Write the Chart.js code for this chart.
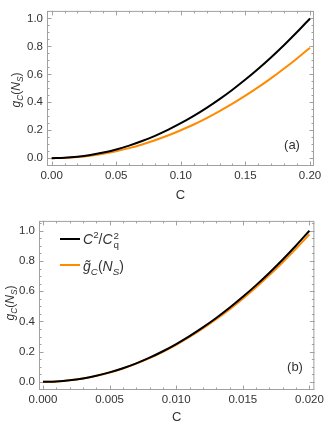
<!DOCTYPE html>
<html>
<head>
<meta charset="utf-8">
<script src="https://cdn.jsdelivr.net/npm/chart.js@4.4.1/dist/chart.umd.min.js"></script>
<style>
body { margin: 0; background: #fff; width: 327px; height: 425px; position: relative; overflow: hidden;
       font-family: "Liberation Sans", Arial, sans-serif; color: #333; }
canvas { position: absolute; left: 0; }
.t { position: absolute; white-space: nowrap; line-height: 1; }
.ytitle { font-size: 12px; transform: translate(-50%, -50%) rotate(-90deg); }
sub, sup { font-size: 70%; line-height: 0; }
.panel { font-size: 13px; transform: translate(-50%, -50%); }
.key { position: absolute; height: 2px; width: 20px; }
.ltxt { font-size: 14px; transform: translateY(-50%); }
.stack { display: inline-block; vertical-align: middle; font-size: 70%; line-height: 0.95; text-align: left; margin-left: 1px; }
</style>
</head>
<body>
<canvas id="chartA" width="327" height="210" style="top:0"></canvas>
<canvas id="chartB" width="327" height="215" style="top:210px"></canvas>

<div class="t ytitle" style="left:16px; top:90px"><i>g</i><sub><i>C</i></sub>(<i>N</i><sub><i>S</i></sub>)</div>
<div class="t ytitle" style="left:10px; top:303px"><i>g</i><sub><i>C</i></sub>(<i>N</i><sub><i>S</i></sub>)</div>
<div class="t panel" style="left:292px; top:144px">(a)</div>
<div class="t panel" style="left:295px; top:366px">(b)</div>

<div class="key" style="left:60px; top:238px; background:#000"></div>
<div class="t ltxt" style="left:83px; top:240px"><i>C</i><sup>2</sup>/<i>C</i><span class="stack">2<br>q</span></div>
<div class="key" style="left:60px; top:264px; background:#ff8a00"></div>
<div class="t ltxt" style="left:83px; top:266px"><i>g&#771;</i><sub><i>C</i></sub>(<i>N</i><sub><i>S</i></sub>)</div>

<script>
// panel (a): C from 0 to 0.2
var cA = [0, 0.01, 0.02, 0.03, 0.04, 0.05, 0.06, 0.07, 0.08, 0.09, 0.10,
          0.11, 0.12, 0.13, 0.14, 0.15, 0.16, 0.17, 0.18, 0.19, 0.20];
var blackA = [0, 0.0025, 0.010, 0.0225, 0.040, 0.0625, 0.090, 0.1225, 0.160, 0.2025, 0.250,
              0.3025, 0.360, 0.4225, 0.490, 0.5625, 0.640, 0.7225, 0.810, 0.9025, 1.000];
var orangeA = [0, 0.002, 0.008, 0.018, 0.032, 0.050, 0.072, 0.098, 0.128, 0.162, 0.200,
               0.241, 0.287, 0.337, 0.390, 0.447, 0.508, 0.573, 0.642, 0.714, 0.790];

// panel (b): C from 0 to 0.02
var cB = [0, 0.001, 0.002, 0.003, 0.004, 0.005, 0.006, 0.007, 0.008, 0.009, 0.010,
          0.011, 0.012, 0.013, 0.014, 0.015, 0.016, 0.017, 0.018, 0.019, 0.020];
var blackB = [0, 0.0025, 0.010, 0.0225, 0.040, 0.0625, 0.090, 0.1225, 0.160, 0.2025, 0.250,
              0.3025, 0.360, 0.4225, 0.490, 0.5625, 0.640, 0.7225, 0.810, 0.9025, 1.000];
var orangeB = [0, 0.0025, 0.0099, 0.0222, 0.0394, 0.0615, 0.0885, 0.1204, 0.1571, 0.1988, 0.2452,
               0.2966, 0.3528, 0.4138, 0.4797, 0.5504, 0.6260, 0.7064, 0.7915, 0.8814, 0.9760];

var xTicksA = [0, 0.05, 0.10, 0.15, 0.20];
var xTicksB = [0, 0.005, 0.010, 0.015, 0.020];
var yTicks = [0, 0.2, 0.4, 0.6, 0.8, 1.0];

function steps(from, to, step) {
    var out = [];
    for (var v = from; v <= to + step / 2; v += step) out.push(+v.toFixed(6));
    return out;
}

function pts(xs, ys) {
    var out = [];
    for (var i = 0; i < xs.length; i++) out.push({x: xs[i], y: ys[i]});
    return out;
}

// Mathematica-like frame with inward ticks on all four sides
var frameTicks = {
    id: 'frameTicks',
    beforeDatasetsDraw: function(chart) {
        var o = chart.options.plugins.frameTicks;
        var ctx = chart.ctx, a = chart.chartArea, x = chart.scales.x, y = chart.scales.y;
        ctx.save();
        ctx.strokeStyle = '#a0a0a0';
        ctx.lineWidth = 1;
        ctx.strokeRect(a.left + 0.5, a.top + 0.5, a.right - a.left - 1, a.bottom - a.top - 1);
        ctx.beginPath();
        function xt(v, len) {
            var p = Math.round(x.getPixelForValue(v)) + 0.5;
            ctx.moveTo(p, a.bottom); ctx.lineTo(p, a.bottom - len);
            ctx.moveTo(p, a.top); ctx.lineTo(p, a.top + len);
        }
        function yt(v, len) {
            var p = Math.round(y.getPixelForValue(v)) + 0.5;
            ctx.moveTo(a.left, p); ctx.lineTo(a.left + len, p);
            ctx.moveTo(a.right, p); ctx.lineTo(a.right - len, p);
        }
        o.xMinor.forEach(function(v) { xt(v, 2.5); });
        o.xMajor.forEach(function(v) { xt(v, 4.5); });
        o.yMinor.forEach(function(v) { yt(v, 2.5); });
        o.yMajor.forEach(function(v) { yt(v, 4.5); });
        ctx.stroke();
        ctx.restore();
    }
};

function makeChart(id, xs, black, orange, xTicks, xMinor, digits, box) {
    return new Chart(document.getElementById(id), {
        type: 'line',
        data: {
            datasets: [
                {data: pts(xs, black), borderColor: '#000', borderWidth: 2, pointRadius: 0, cubicInterpolationMode: 'monotone'},
                {data: pts(xs, orange), borderColor: '#ff8a00', borderWidth: 2, pointRadius: 0, cubicInterpolationMode: 'monotone'}
            ]
        },
        options: {
            responsive: false,
            animation: false,
            layout: {padding: {top: box.top, right: box.right, left: 0, bottom: 0}},
            plugins: {
                legend: {display: false},
                tooltip: {enabled: false},
                frameTicks: {xMajor: xTicks, xMinor: xMinor, yMajor: yTicks, yMinor: steps(-0.05, 1.05, 0.05)}
            },
            scales: {
                x: {
                    type: 'linear', min: box.xmin, max: box.xmax,
                    grid: {display: false, drawTicks: false}, border: {display: false},
                    afterBuildTicks: function(s) { s.ticks = xTicks.map(function(v) { return {value: v}; }); },
                    afterFit: function(s) { s.height = box.xh; },
                    ticks: {padding: 3, color: '#333', font: {family: 'Liberation Sans', size: 11.5},
                            callback: function(v) { return v.toFixed(digits); }},
                    title: {display: true, text: 'C', color: '#333', font: {family: 'Liberation Sans', size: 13},
                            padding: {top: 0, bottom: box.tpad}}
                },
                y: {
                    min: box.ymin, max: box.ymax,
                    grid: {display: false, drawTicks: false}, border: {display: false},
                    afterBuildTicks: function(s) { s.ticks = yTicks.map(function(v) { return {value: v}; }); },
                    afterFit: function(s) { s.width = box.yw; },
                    ticks: {padding: 4, autoSkip: false, color: '#333', font: {family: 'Liberation Sans', size: 11.5},
                            callback: function(v) { return v.toFixed(1); }}
                }
            }
        },
        plugins: [frameTicks]
    });
}

makeChart('chartA', cA, blackA, orangeA, xTicksA, steps(0, 0.20, 0.01), 2,
    {top: 1, right: 13, xh: 44, yw: 47, xmin: -0.0036, xmax: 0.2031, ymin: -0.056, ymax: 1.054, tpad: 7});
makeChart('chartB', cB, blackB, orangeB, xTicksB, steps(0, 0.020, 0.001), 3,
    {top: 7, right: 10, xh: 35, yw: 39, xmin: -0.0003, xmax: 0.02037, ymin: -0.054, ymax: 1.065, tpad: 0});
</script>
</body>
</html>
